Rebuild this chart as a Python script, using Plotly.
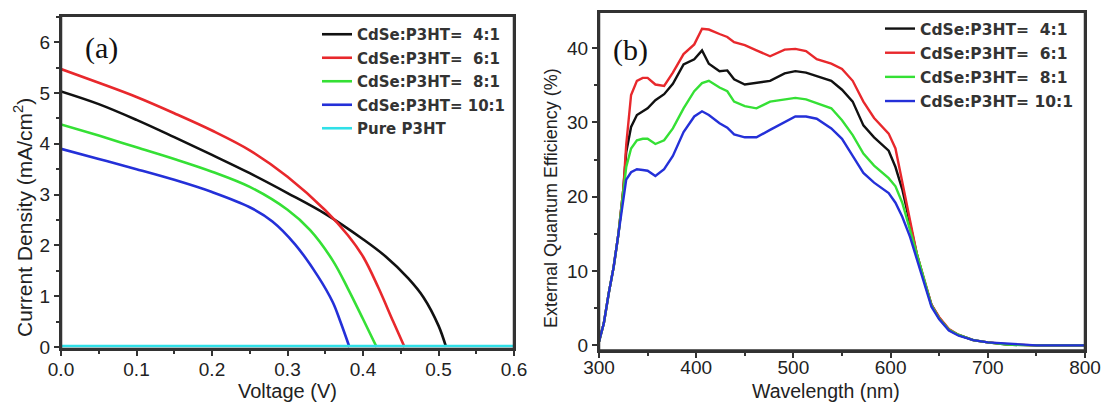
import plotly.graph_objects as go

# ---------------- Panel (a): J-V curves ----------------
labels = ["CdSe:P3HT=  4:1", "CdSe:P3HT=  6:1", "CdSe:P3HT=  8:1", "CdSe:P3HT= 10:1", "Pure P3HT"]
colors = ["#111111", "#e8282c", "#35e035", "#2430d8", "#30e0e8"]

v_41 = [0, 0.05, 0.1, 0.15, 0.2, 0.25, 0.3, 0.35, 0.4, 0.43, 0.46, 0.48, 0.5, 0.51]
j_41 = [5.03, 4.78, 4.47, 4.13, 3.78, 3.42, 3.03, 2.62, 2.12, 1.78, 1.35, 0.98, 0.42, 0.0]

v_61 = [0, 0.05, 0.1, 0.15, 0.2, 0.25, 0.3, 0.35, 0.38, 0.4, 0.42, 0.44, 0.455]
j_61 = [5.47, 5.2, 4.92, 4.6, 4.26, 3.87, 3.35, 2.69, 2.2, 1.78, 1.18, 0.5, 0.0]

v_81 = [0, 0.05, 0.1, 0.15, 0.2, 0.25, 0.3, 0.33, 0.36, 0.38, 0.4, 0.418]
j_81 = [4.38, 4.16, 3.93, 3.7, 3.45, 3.15, 2.7, 2.3, 1.7, 1.15, 0.55, 0.0]

v_101 = [0, 0.05, 0.1, 0.15, 0.2, 0.25, 0.28, 0.31, 0.34, 0.36, 0.37, 0.382]
j_101 = [3.9, 3.7, 3.5, 3.29, 3.05, 2.75, 2.47, 2.02, 1.4, 0.88, 0.5, 0.0]

v_pure = [0, 0.6]
j_pure = [0.02, 0.02]

# ---------------- Panel (b): EQE spectra ----------------
wl = [300, 305, 310, 315, 320, 325, 328, 333, 339, 345, 350, 358, 367, 376, 387, 398, 406, 413,
      424, 432, 439, 450, 462, 476, 491, 502, 513, 524, 539, 550, 561, 572, 583, 598, 605, 612,
      620, 627, 635, 642, 650, 660, 670, 685, 700, 720, 750, 800]

eqe_41 = [0.5, 3, 7, 10.5, 15, 21, 26, 29.4, 31, 31.5, 31.9, 33, 33.8, 35.2, 37.8, 38.5, 39.7, 37.9,
          36.9, 37, 35.8, 35.1, 35.3, 35.6, 36.6, 36.9, 36.7, 36.2, 35.6, 34.4, 32.8, 29.6, 28, 26.2, 24, 21,
          16.5, 12.3, 8.5, 5.5, 3.7, 2.1, 1.4, 0.7, 0.4, 0.1, 0, 0]
eqe_61 = [0.5, 3, 7, 10.5, 15, 21, 27, 33.7, 35.6, 36, 36, 35.1, 34.9, 36.7, 39.2, 40.5, 42.6, 42.5,
          41.9, 41.5, 40.8, 40.4, 39.7, 38.9, 39.8, 39.9, 39.6, 38.5, 37.9, 37.2, 35.6, 32.8, 30.6, 28.5, 26.5, 22,
          17, 12.3, 8.7, 5.5, 3.8, 2.2, 1.4, 0.7, 0.4, 0.15, 0, 0]
eqe_81 = [0.5, 3, 7, 10.5, 15, 20.5, 24, 26.5, 27.6, 27.8, 27.8, 27.1, 27.6, 29.2, 31.9, 34.2, 35.3, 35.6,
          34.7, 34.2, 32.8, 32.2, 31.9, 32.8, 33.1, 33.3, 33.1, 32.6, 31.9, 30.3, 28.3, 25.8, 24.2, 22.5, 21.4, 19.2,
          15.5, 12, 8.3, 5.4, 3.6, 2.1, 1.4, 0.7, 0.4, 0.1, 0, 0]
eqe_101 = [0.5, 3, 7, 10.5, 15, 19.5, 22.3, 23.3, 23.7, 23.6, 23.5, 22.8, 23.7, 25.5, 28.7, 30.8, 31.5, 31,
           29.9, 29.3, 28.4, 28, 28, 29, 30.1, 30.8, 30.8, 30.5, 29.2, 27.8, 25.5, 23.2, 21.9, 20.5, 19.2, 17.3,
           14.6, 11.5, 8, 5.2, 3.5, 2, 1.3, 0.7, 0.4, 0.2, 0, 0]

W, H = 1106, 403
fig = go.Figure()

jv = [(v_41, j_41), (v_61, j_61), (v_81, j_81), (v_101, j_101), (v_pure, j_pure)]
for i, (vx, jy) in enumerate(jv):
    fig.add_trace(go.Scatter(x=vx, y=jy, mode="lines", name=labels[i],
                             line=dict(color=colors[i], width=2.6, shape="spline"),
                             xaxis="x", yaxis="y", legend="legend", legendgroup="a%d" % i,
                             cliponaxis=False, hoverinfo="skip"))

eqe = [eqe_41, eqe_61, eqe_81, eqe_101]
for i, ey in enumerate(eqe):
    fig.add_trace(go.Scatter(x=wl, y=ey, mode="lines", name=labels[i],
                             line=dict(color=colors[i], width=2.4),
                             xaxis="x2", yaxis="y2", legend="legend2", legendgroup="b%d" % i,
                             hoverinfo="skip"))

def px(x):
    return x / W

def py(y):
    return 1 - y / H

FONT = "Liberation Sans, Arial, sans-serif"
TXT = "#222"
tickfont = dict(family=FONT, size=19, color=TXT)


def ax(**kw):
    d = dict(showline=True, linecolor="#333", linewidth=2, mirror=True, showgrid=False,
             zeroline=False, ticks="outside", ticklen=5, tickwidth=2, tickcolor="#333",
             tickfont=tickfont, automargin=False, layer="above traces")
    d.update(kw)
    return d


legfont = dict(family="DejaVu Sans, sans-serif", size=15, color="#333", weight="bold")
mcol = dict(ticklen=3, tickwidth=2, tickcolor="#333", ticks="outside")

frame_shapes = [
    dict(type="rect", xref="x domain", yref="y domain", x0=0, x1=1, y0=0, y1=1,
         line=dict(color="#333", width=2.5), layer="above"),
    dict(type="rect", xref="x2 domain", yref="y2 domain", x0=0, x1=1, y0=0, y1=1,
         line=dict(color="#333", width=2.5), layer="above"),
]

fig.update_layout(
    width=W, height=H, margin=dict(l=0, r=0, t=0, b=0),
    paper_bgcolor="white", plot_bgcolor="white", hovermode=False,
    xaxis=ax(domain=[px(61), px(514)], range=[0, 0.6], dtick=0.1, tickformat=".1f",
             minor=dict(dtick=0.05, **mcol), anchor="y", ticklabelstandoff=-3),
    yaxis=ax(domain=[py(349), py(15.7)], range=[-0.04, 6.52], dtick=1,
             minor=dict(dtick=0.5, **mcol), anchor="x"),
    xaxis2=ax(domain=[px(599), px(1085)], range=[300, 800], dtick=100,
              minor=dict(dtick=50, **mcol), anchor="y2", ticklabelstandoff=-6),
    yaxis2=ax(domain=[py(350.6), py(11.7)], range=[-0.7, 44.9], dtick=10,
              minor=dict(dtick=5, **mcol), anchor="x2"),
    legend=dict(x=px(317), y=py(18), xanchor="left", yanchor="top", bgcolor="rgba(0,0,0,0)",
                font=legfont, tracegroupgap=1, borderwidth=0),
    legend2=dict(x=px(880), y=py(12), xanchor="left", yanchor="top", bgcolor="rgba(0,0,0,0)",
                 font=dict(family="DejaVu Sans, sans-serif", size=15.5, color="#333", weight="bold"),
                 tracegroupgap=1, borderwidth=0),
    showlegend=True,
    shapes=frame_shapes,
    annotations=[
        dict(text="(a)", x=px(101), y=py(48), xref="paper", yref="paper", showarrow=False,
             xanchor="center", yanchor="middle",
             font=dict(family="Liberation Serif, Times New Roman, serif", size=30, color="#111")),
        dict(text="(b)", x=px(631), y=py(50), xref="paper", yref="paper", showarrow=False,
             xanchor="center", yanchor="middle",
             font=dict(family="Liberation Serif, Times New Roman, serif", size=30, color="#111")),
        # axis titles
        dict(text="Voltage (V)", x=px(287), y=py(391), xref="paper", yref="paper", showarrow=False,
             xanchor="center", yanchor="middle", font=dict(family=FONT, size=20, color=TXT)),
        dict(text="Current Density (mA/cm<sup>2</sup>)", x=px(23), y=py(218), xref="paper", yref="paper",
             showarrow=False, textangle=-90, xanchor="center", yanchor="middle",
             font=dict(family=FONT, size=21, color=TXT)),
        dict(text="Wavelength (nm)", x=px(826), y=py(391), xref="paper", yref="paper", showarrow=False,
             xanchor="center", yanchor="middle", font=dict(family=FONT, size=19.5, color=TXT)),
        dict(text="External Quantum Efficiency (%)", x=px(551), y=py(198), xref="paper", yref="paper",
             showarrow=False, textangle=-90, xanchor="center", yanchor="middle",
             font=dict(family=FONT, size=18, color=TXT)),
    ],
)

fig.write_html("out.html", config={"displayModeBar": False},
               post_script="document.body.style.margin='0';document.body.style.overflow='hidden';")
